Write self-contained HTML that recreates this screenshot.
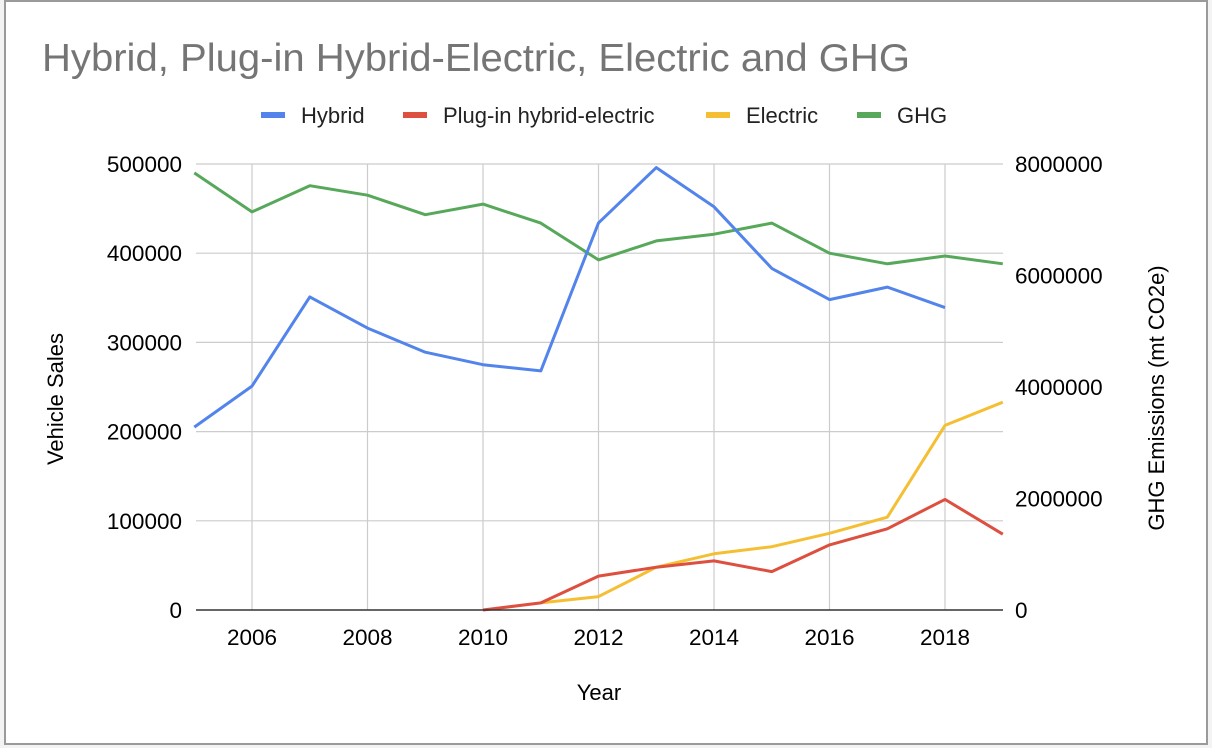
<!DOCTYPE html>
<html><head><meta charset="utf-8"><style>
body{margin:0;background:#fff;width:1212px;height:748px;overflow:hidden;font-family:"Liberation Sans",Arial,sans-serif}
</style></head><body>
<svg id="chart" width="1212" height="748" xmlns="http://www.w3.org/2000/svg" font-family="Liberation Sans, Arial, sans-serif">
<rect x="0" y="0" width="1212" height="748" fill="#f3f3f3"/>
<rect x="5" y="1" width="1202" height="743" fill="#fff" stroke="#9a9a9a" stroke-width="2"/>
<text x="42" y="71" font-size="39" fill="#757575" textLength="868" lengthAdjust="spacingAndGlyphs">Hybrid, Plug-in Hybrid-Electric, Electric and GHG</text>
<g id="legend"></g>
<g id="grid"></g>
<g id="series"></g>
<g id="axes"></g>
<text x="0" y="0" font-size="22" fill="#000" text-anchor="middle" transform="translate(63,399) rotate(-90)">Vehicle Sales</text>
<text x="0" y="0" font-size="22" fill="#000" text-anchor="middle" transform="translate(1164,398) rotate(-90)">GHG Emissions (mt CO2e)</text>
<text x="599" y="700" font-size="22" fill="#000" text-anchor="middle">Year</text>
</svg>
<script>
const years=[2005,2006,2007,2008,2009,2010,2011,2012,2013,2014,2015,2016,2017,2018,2019];
const hybrid=[205000,251000,351000,316000,289000,275000,268000,434000,496000,452000,383000,348000,362000,339000,null];
const phev=[null,null,null,null,null,0,8000,38000,48000,55000,43000,73000,91000,124000,85000];
const electric=[null,null,null,null,null,null,8000,15000,48000,63000,71000,86000,104000,207000,233000];
const ghg=[7840000,7140000,7610000,7440000,7090000,7280000,6940000,6280000,6620000,6740000,6940000,6400000,6210000,6350000,6210000];
const leftTicks=[0,100000,200000,300000,400000,500000];
const rightTicks=[0,2000000,4000000,6000000,8000000];
const xTicks=[2006,2008,2010,2012,2014,2016,2018];
const NS='http://www.w3.org/2000/svg';
const X0=194.25,X1=1002.75,Y0=610,Y1=164;
const x=v=>X0+(v-2005)/(2019-2005)*(X1-X0);
const yl=v=>Y0-v/500000*(Y0-Y1);
const yr=v=>Y0-v/8000000*(Y0-Y1);
function mk(t,a,p){const e=document.createElementNS(NS,t);for(const k in a)e.setAttribute(k,a[k]);p.appendChild(e);return e;}
const grid=document.getElementById('grid'),axes=document.getElementById('axes'),ser=document.getElementById('series'),leg=document.getElementById('legend');
leftTicks.forEach(v=>{if(v>0){const l=mk('line',{x1:196,x2:1003,y1:yl(v),y2:yl(v),stroke:'#cccccc','stroke-width':1.2},grid);

}
const t=mk('text',{x:182,y:yl(v)+8,'font-size':22.5,'text-anchor':'end',fill:'#000'},axes);t.textContent=v;

});
rightTicks.forEach(v=>{const t=mk('text',{x:1015,y:yr(v)+8,'font-size':22.5,fill:'#000'},axes);t.textContent=v;

});
xTicks.forEach(v=>{const l=mk('line',{x1:x(v),x2:x(v),y1:Y1,y2:Y0,stroke:'#cccccc','stroke-width':1.2},grid);


const t=mk('text',{x:x(v),y:645,'font-size':22.5,'text-anchor':'middle',fill:'#000'},axes);t.textContent=v;

});
const base=mk('line',{x1:196,x2:1003,y1:Y0,y2:Y0,stroke:'#333','stroke-width':1.5},axes);


function line(vals,fy,color,name){let d='';vals.forEach((v,i)=>{if(v===null)return;d+=(d?'L':'M')+x(years[i]).toFixed(1)+','+fy(v).toFixed(1);});
const p=mk('path',{d:d,fill:'none',stroke:color,'stroke-width':3,'stroke-linejoin':'round'},ser);

}
line(ghg,yr,'#57a85a','ghg-line');
line(hybrid,yl,'#5384eb','hybrid-line');
line(electric,yl,'#f5bf33','electric-line');
line(phev,yl,'#dd4f3f','phev-line');
const legItems=[['Hybrid','#5384eb',261],['Plug-in hybrid-electric','#dd4f3f',403],['Electric','#f5bf33',706],['GHG','#57a85a',857]];
legItems.forEach(it=>{const r=mk('rect',{x:it[2],y:112,width:24,height:6,fill:it[1]},leg);


const t=mk('text',{x:it[2]+40,y:123,'font-size':22,fill:'#222'},leg);t.textContent=it[0];

});
</script>
</body></html>
